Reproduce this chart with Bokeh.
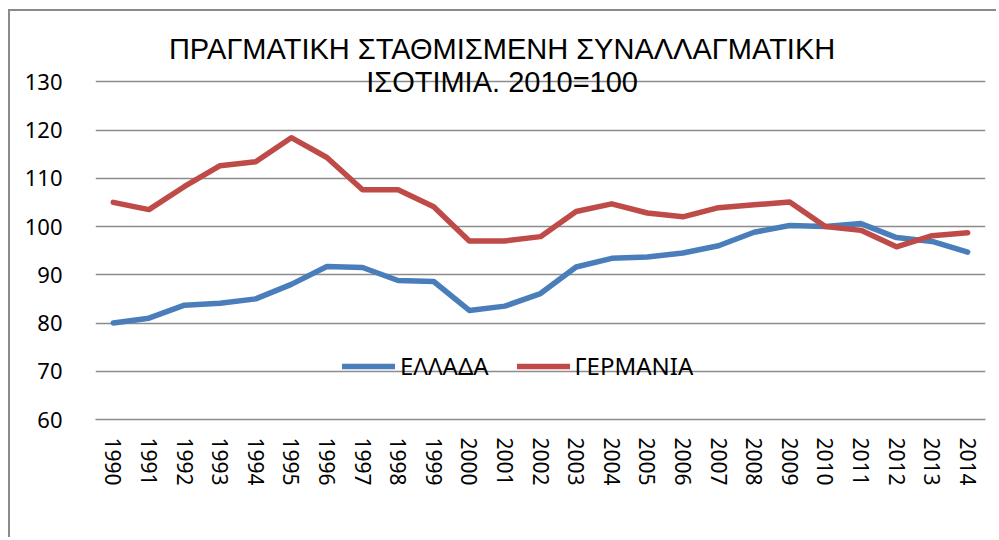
from bokeh.plotting import figure
from bokeh.models import Range1d, Label, Legend, LegendItem, FixedTicker
from bokeh.embed import file_html
from bokeh.resources import INLINE

years = ["1990", "1991", "1992", "1993", "1994", "1995", "1996", "1997", "1998", "1999",
         "2000", "2001", "2002", "2003", "2004", "2005", "2006", "2007", "2008", "2009",
         "2010", "2011", "2012", "2013", "2014"]
greece = [80.0, 81.0, 83.7, 84.1, 85.0, 88.0, 91.7, 91.5, 88.8, 88.6,
          82.6, 83.5, 86.1, 91.6, 93.4, 93.7, 94.5, 96.0, 98.8, 100.2,
          100.0, 100.6, 97.7, 96.9, 94.7]
germany = [105.0, 103.5, 108.3, 112.6, 113.4, 118.4, 114.3, 107.6, 107.6, 104.1,
           97.0, 97.0, 97.9, 103.1, 104.7, 102.8, 102.0, 103.9, 104.5, 105.1,
           100.0, 99.2, 95.8, 98.1, 98.7]
y_ticks = [60, 70, 80, 90, 100, 110, 120, 130]
title_lines = ["ΠΡΑΓΜΑΤΙΚΗ ΣΤΑΘΜΙΣΜΕΝΗ ΣΥΝΑΛΛΑΓΜΑΤΙΚΗ", "ΙΣΟΤΙΜΙΑ. 2010=100"]
series_names = ["ΕΛΛΑΔΑ", "ΓΕΡΜΑΝΙΑ"]

p = figure(x_range=years, y_range=Range1d(60, 140), width=988, height=528,
           output_backend="svg", toolbar_location=None,
           min_border_left=85, min_border_right=13, min_border_top=22, min_border_bottom=120)
p.styles = {"border-left": "2px solid #8a8a8a", "border-top": "2px solid #8a8a8a",
            "margin-left": "8px", "margin-top": "9px"}
p.outline_line_color = None
p.background_fill_color = "white"
p.border_fill_color = "white"

p.xgrid.grid_line_color = None
p.ygrid.grid_line_color = "#8c8c8c"
p.ygrid.grid_line_width = 1.5

p.yaxis.ticker = FixedTicker(ticks=y_ticks)
p.yaxis.axis_line_color = None
p.yaxis.major_tick_line_color = None
p.yaxis.minor_tick_line_color = None
p.yaxis.major_label_standoff = 27
p.yaxis.major_label_text_font = "Noto Sans"
p.yaxis.major_label_text_font_size = "22px"
p.yaxis.major_label_text_color = "black"

p.xaxis.axis_line_color = "#8c8c8c"
p.xaxis.axis_line_width = 1.5
p.xaxis.major_tick_line_color = None
p.xaxis.minor_tick_line_color = None
p.xaxis.major_label_orientation = "vertical"
p.xaxis.major_label_standoff = 12
p.xaxis.major_label_text_font = "Noto Sans"
p.xaxis.major_label_text_font_size = "21px"
p.xaxis.major_label_text_color = "black"

r1 = p.line(years, greece, line_color="#4A7EBB", line_width=5.5, line_join="round", line_cap="round")
r2 = p.line(years, germany, line_color="#BE4B48", line_width=5.5, line_join="round", line_cap="round")

legend = Legend(items=[LegendItem(label=series_names[0], renderers=[r1]),
                       LegendItem(label=series_names[1], renderers=[r2])],
                orientation="horizontal", location=(247, 37),
                background_fill_alpha=0, border_line_color=None,
                glyph_width=53, label_standoff=5, spacing=28, padding=0, margin=0,
                label_text_font="Noto Sans", label_text_font_size="24px",
                label_text_color="black")
p.add_layout(legend, "center")

for txt, yv in zip(title_lines, [136.8, 129.9]):
    p.add_layout(Label(x=11.42, y=yv, text=txt, text_align="center", text_baseline="alphabetic",
                       text_font="Liberation Sans", text_font_size="29px",
                       text_color="black"))

open("out.html", "w").write(file_html(p, INLINE))
